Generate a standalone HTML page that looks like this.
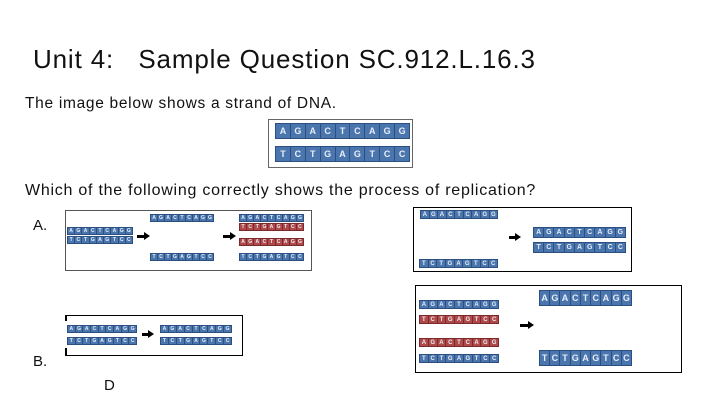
<!DOCTYPE html>
<html><head><meta charset="utf-8"><style>
*{margin:0;padding:0;box-sizing:border-box}
body{width:720px;height:405px;background:#fff;position:relative;overflow:hidden;font-family:"Liberation Sans",sans-serif;color:#111}
.t{position:absolute;white-space:nowrap}
.box{position:absolute;border:2px solid #333}
.s{position:absolute;display:flex;border:1px solid #2b4f80;background:#4a76ad}
.s span{flex:1;color:#e8eef8;font-weight:bold;text-align:center;border-left:1px solid #2b4f80;display:flex;align-items:center;justify-content:center}
.s span:first-child{border-left:none}
.r{background:#b04a4a;border-color:#7a2a2a}
.r span{border-left-color:#7a2a2a}
.ar{position:absolute;height:0;border-top:3px solid #000}
.ar:after{content:"";position:absolute;right:-5px;top:-6px;border-left:6px solid #000;border-top:4.5px solid transparent;border-bottom:4.5px solid transparent}
</style></head><body>
<div class="t" style="left:33px;top:44px;font-size:26px;letter-spacing:0.85px">Unit 4:&nbsp;&nbsp; Sample Question SC.912.L.16.3</div>
<div class="t" style="left:25px;top:95px;font-size:15.5px;letter-spacing:0.7px">The image below shows a strand of DNA.</div>
<div class="t" style="left:25px;top:182px;font-size:16px;letter-spacing:0.75px">Which of the following correctly shows the process of replication?</div>
<div class="t" style="left:33px;top:217px;font-size:15px">A.</div>
<div class="t" style="left:33px;top:353px;font-size:15px">B.</div>
<div class="t" style="left:104px;top:377px;font-size:15px">D</div>

<!-- top strand -->
<div class="box" style="left:268px;top:119px;width:145px;height:49px;border-width:1px;border-color:#666"></div>
<div class="s" style="left:275px;top:123px;width:135px;height:16px;font-size:9px"><span>A</span><span>G</span><span>A</span><span>C</span><span>T</span><span>C</span><span>A</span><span>G</span><span>G</span></div>
<div class="s" style="left:275px;top:146px;width:135px;height:16px;font-size:9px"><span>T</span><span>C</span><span>T</span><span>G</span><span>A</span><span>G</span><span>T</span><span>C</span><span>C</span></div>

<!-- A -->
<div class="box" style="left:65px;top:210px;width:247px;height:61px;border-width:1px;border-color:#555"></div>
<div class="s" style="left:67px;top:227px;width:66px;height:8px;font-size:5px"><span>A</span><span>G</span><span>A</span><span>C</span><span>T</span><span>C</span><span>A</span><span>G</span><span>G</span></div>
<div class="s" style="left:67px;top:236px;width:66px;height:8px;font-size:5px"><span>T</span><span>C</span><span>T</span><span>G</span><span>A</span><span>G</span><span>T</span><span>C</span><span>C</span></div>
<div class="ar" style="left:137px;top:235px;width:8px"></div>
<div class="s" style="left:150px;top:214px;width:64px;height:8px;font-size:5px"><span>A</span><span>G</span><span>A</span><span>C</span><span>T</span><span>C</span><span>A</span><span>G</span><span>G</span></div>
<div class="s" style="left:150px;top:253px;width:64px;height:8px;font-size:5px"><span>T</span><span>C</span><span>T</span><span>G</span><span>A</span><span>G</span><span>T</span><span>C</span><span>C</span></div>
<div class="ar" style="left:223px;top:235px;width:8px"></div>
<div class="s" style="left:239px;top:214px;width:65px;height:8px;font-size:5px"><span>A</span><span>G</span><span>A</span><span>C</span><span>T</span><span>C</span><span>A</span><span>G</span><span>G</span></div>
<div class="s r" style="left:239px;top:223px;width:65px;height:8px;font-size:5px"><span>T</span><span>C</span><span>T</span><span>G</span><span>A</span><span>G</span><span>T</span><span>C</span><span>C</span></div>
<div class="s r" style="left:239px;top:238px;width:65px;height:8px;font-size:5px"><span>A</span><span>G</span><span>A</span><span>C</span><span>T</span><span>C</span><span>A</span><span>G</span><span>G</span></div>
<div class="s" style="left:239px;top:253px;width:65px;height:8px;font-size:5px"><span>T</span><span>C</span><span>T</span><span>G</span><span>A</span><span>G</span><span>T</span><span>C</span><span>C</span></div>

<!-- C (top right) -->
<div class="box" style="left:413px;top:207px;width:219px;height:65px;border-width:1.5px;border-color:#000"></div>
<div class="s" style="left:420px;top:210px;width:78px;height:9px;font-size:6px"><span>A</span><span>G</span><span>A</span><span>C</span><span>T</span><span>C</span><span>A</span><span>G</span><span>G</span></div>
<div class="s" style="left:419px;top:259px;width:79px;height:9px;font-size:6px"><span>T</span><span>C</span><span>T</span><span>G</span><span>A</span><span>G</span><span>T</span><span>C</span><span>C</span></div>
<div class="ar" style="left:509px;top:236px;width:7px"></div>
<div class="s" style="left:533px;top:227px;width:93px;height:11px;font-size:7px"><span>A</span><span>G</span><span>A</span><span>C</span><span>T</span><span>C</span><span>A</span><span>G</span><span>G</span></div>
<div class="s" style="left:533px;top:242px;width:93px;height:11px;font-size:7px"><span>T</span><span>C</span><span>T</span><span>G</span><span>A</span><span>G</span><span>T</span><span>C</span><span>C</span></div>

<!-- D (bottom right) -->
<div class="box" style="left:415px;top:285px;width:267px;height:88px;border-width:1.5px;border-color:#000"></div>
<div class="s" style="left:419px;top:300px;width:80px;height:9px;font-size:6px"><span>A</span><span>G</span><span>A</span><span>C</span><span>T</span><span>C</span><span>A</span><span>G</span><span>G</span></div>
<div class="s r" style="left:419px;top:315px;width:80px;height:9px;font-size:6px"><span>T</span><span>C</span><span>T</span><span>G</span><span>A</span><span>G</span><span>T</span><span>C</span><span>C</span></div>
<div class="s r" style="left:419px;top:338px;width:80px;height:9px;font-size:6px"><span>A</span><span>G</span><span>A</span><span>C</span><span>T</span><span>C</span><span>A</span><span>G</span><span>G</span></div>
<div class="s" style="left:419px;top:354px;width:80px;height:9px;font-size:6px"><span>T</span><span>C</span><span>T</span><span>G</span><span>A</span><span>G</span><span>T</span><span>C</span><span>C</span></div>
<div class="ar" style="left:520px;top:324px;width:9px"></div>
<div class="s" style="left:539px;top:290px;width:93px;height:16px;font-size:9px"><span>A</span><span>G</span><span>A</span><span>C</span><span>T</span><span>C</span><span>A</span><span>G</span><span>G</span></div>
<div class="s" style="left:539px;top:350px;width:93px;height:16px;font-size:9px"><span>T</span><span>C</span><span>T</span><span>G</span><span>A</span><span>G</span><span>T</span><span>C</span><span>C</span></div>

<!-- B -->
<div style="position:absolute;left:65px;top:315px;width:178px;height:41px;border-top:1.5px solid #000;border-right:1.5px solid #000;border-bottom:1.5px solid #000"></div>
<div style="position:absolute;left:65px;top:315px;width:1.5px;height:6px;background:#000"></div>
<div style="position:absolute;left:65px;top:348px;width:1.5px;height:8px;background:#000"></div>
<div class="s" style="left:67px;top:325px;width:70px;height:8px;font-size:5px"><span>A</span><span>G</span><span>A</span><span>C</span><span>T</span><span>C</span><span>A</span><span>G</span><span>G</span></div>
<div class="s" style="left:67px;top:337px;width:70px;height:8px;font-size:5px"><span>T</span><span>C</span><span>T</span><span>G</span><span>A</span><span>G</span><span>T</span><span>C</span><span>C</span></div>
<div class="ar" style="left:142px;top:333px;width:7px"></div>
<div class="s" style="left:160px;top:325px;width:72px;height:8px;font-size:5px"><span>A</span><span>G</span><span>A</span><span>C</span><span>T</span><span>C</span><span>A</span><span>G</span><span>G</span></div>
<div class="s" style="left:160px;top:337px;width:72px;height:8px;font-size:5px"><span>T</span><span>C</span><span>T</span><span>G</span><span>A</span><span>G</span><span>T</span><span>C</span><span>C</span></div>
</body></html>
